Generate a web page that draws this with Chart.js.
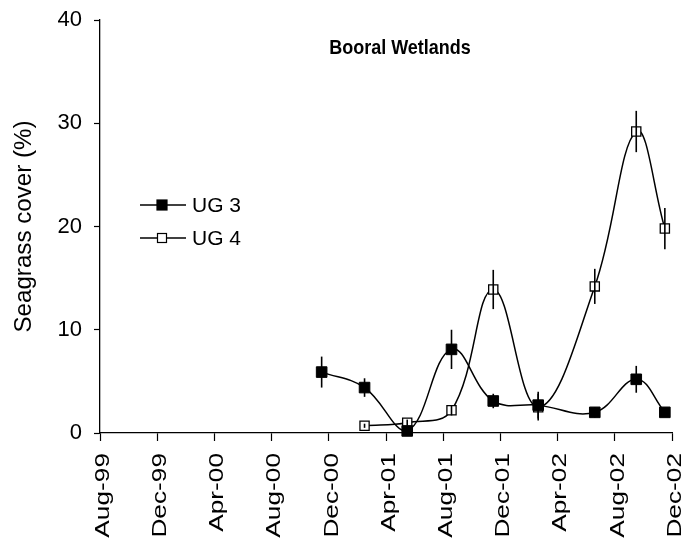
<!DOCTYPE html>
<html>
<head>
<meta charset="utf-8">
<script src="https://cdn.jsdelivr.net/npm/chart.js@4/dist/chart.umd.min.js"></script>
<style>
  html, body { margin: 0; padding: 0; background: #fff; }
  #wrap { width: 690px; height: 542px; }
</style>
</head>
<body>
<div id="wrap"><canvas id="c" width="690" height="542"></canvas></div>
<script>
// ---- Data ----
const chartTitle = 'Booral Wetlands';
const yAxisTitle = 'Seagrass cover (%)';
const tickLabels = ['Aug-99','Dec-99','Apr-00','Aug-00','Dec-00','Apr-01','Aug-01','Dec-01','Apr-02','Aug-02','Dec-02'];
const axisStart = '1999-08-01';

const ug3Dates  = ['2000-11-16','2001-02-15','2001-05-16','2001-08-19','2001-11-16','2002-02-19','2002-06-19','2002-09-16','2002-11-16'];
const ug3Values = [5.9, 4.4, 0.2, 8.1, 3.1, 2.7, 2.0, 5.2, 2.0];
const ug3Errors = [1.5, 0.9, 0.3, 1.9, 0.7, 1.3, 0.5, 1.3, 0.4];

const ug4Dates  = ['2001-02-15','2001-05-16','2001-08-19','2001-11-16','2002-02-19','2002-06-19','2002-09-16','2002-11-16'];
const ug4Values = [0.7, 1.0, 2.2, 13.9, 2.5, 14.2, 29.2, 19.8];
const ug4Errors = [0.2, 0.3, 0.5, 1.9, 1.3, 1.7, 2.0, 2.0];

// months elapsed since axisStart (fractional)
function monthsSince(d) {
  const [y, m, day] = d.split('-').map(Number);
  const [y0, m0] = axisStart.split('-').map(Number);
  const dim = new Date(y, m, 0).getDate();
  return (y - y0) * 12 + (m - m0) + (day - 1) / dim;
}
function toPoints(dates, vals, errs) {
  return dates.map((d, i) => ({ x: monthsSince(d), y: vals[i], err: errs[i] }));
}

const FONT = '"Liberation Sans", Arial, sans-serif';

const errorBarPlugin = {
  id: 'errorBars',
  afterDatasetsDraw(chart) {
    const ctx = chart.ctx;
    const xs = chart.scales.x, ys = chart.scales.y;
    ctx.save();
    ctx.strokeStyle = '#000';
    ctx.lineWidth = 1.6;
    chart.data.datasets.forEach(ds => {
      ds.data.forEach(p => {
        const px = xs.getPixelForValue(p.x);
        ctx.beginPath();
        ctx.moveTo(px, ys.getPixelForValue(p.y - p.err));
        ctx.lineTo(px, ys.getPixelForValue(p.y + p.err));
        ctx.stroke();
      });
    });
    ctx.restore();
  }
};

const annotPlugin = {
  id: 'annot',
  afterDraw(chart) {
    const ctx = chart.ctx;
    const xs = chart.scales.x, ys = chart.scales.y;
    ctx.save();
    ctx.fillStyle = '#000';

    // title
    ctx.save();
    ctx.font = 'bold 18px ' + FONT;
    ctx.textAlign = 'center';
    ctx.textBaseline = 'middle';
    ctx.translate(400, 48);
    ctx.scale(1, 1.15);
    ctx.fillText(chartTitle, 0, 0);
    ctx.restore();

    // x tick labels (rotated, slightly elongated like the original)
    ctx.font = '21px ' + FONT;
    ctx.textAlign = 'right';
    ctx.textBaseline = 'middle';
    tickLabels.forEach((lab, i) => {
      const px = xs.getPixelForValue(i * 4);
      ctx.save();
      ctx.translate(px + 3, ys.bottom + 20);
      ctx.rotate(-Math.PI / 2);
      ctx.scale(1.25, 1);
      ctx.fillText(lab, 0, 0);
      ctx.restore();
    });

    // y axis title
    ctx.save();
    ctx.font = '23px ' + FONT;
    ctx.textAlign = 'center';
    ctx.textBaseline = 'middle';
    ctx.translate(25, (ys.top + ys.bottom) / 2);
    ctx.rotate(-Math.PI / 2);
    ctx.scale(1.05, 1);
    ctx.fillText(yAxisTitle, 0, 0);
    ctx.restore();

    // legend
    const items = [
      { label: 'UG 3', fill: '#000', y: 205, size: 10 },
      { label: 'UG 4', fill: '#fff', y: 238, size: 9 }
    ];
    items.forEach(it => {
      ctx.strokeStyle = '#000';
      ctx.lineWidth = 1.5;
      ctx.beginPath();
      ctx.moveTo(140, it.y);
      ctx.lineTo(186, it.y);
      ctx.stroke();
      const s = it.size;
      ctx.fillStyle = it.fill;
      ctx.fillRect(162 - s / 2, it.y - s / 2, s, s);
      ctx.lineWidth = 1.2;
      ctx.strokeRect(162 - s / 2, it.y - s / 2, s, s);
      ctx.fillStyle = '#000';
      ctx.font = '21px ' + FONT;
      ctx.textAlign = 'left';
      ctx.textBaseline = 'middle';
      ctx.fillText(it.label, 192, it.y + 1);
    });
    ctx.restore();
  }
};

new Chart(document.getElementById('c'), {
  type: 'line',
  data: {
    datasets: [
      {
        label: 'UG 3',
        data: toPoints(ug3Dates, ug3Values, ug3Errors),
        borderColor: '#000',
        borderWidth: 1.5,
        backgroundColor: '#000',
        pointStyle: 'rect',
        pointRadius: 7.5,
        pointBorderWidth: 1,
        pointBorderColor: '#000',
        pointBackgroundColor: '#000',
        tension: 0.4,
        clip: false
      },
      {
        label: 'UG 4',
        data: toPoints(ug4Dates, ug4Values, ug4Errors),
        borderColor: '#000',
        borderWidth: 1.5,
        backgroundColor: '#fff',
        pointStyle: 'rect',
        pointRadius: 6.5,
        pointBorderWidth: 1.3,
        pointBorderColor: '#000',
        pointBackgroundColor: '#fff',
        tension: 0.4,
        clip: false
      }
    ]
  },
  options: {
    responsive: false,
    animation: false,
    devicePixelRatio: 1,
    layout: { padding: { left: 0, right: 18, top: 20, bottom: 0 } },
    plugins: { legend: { display: false }, tooltip: { enabled: false }, title: { display: false } },
    scales: {
      x: {
        type: 'linear',
        min: 0, max: 40,
        afterFit(s) { s.height = 109; s.paddingLeft = 0; s.paddingRight = 0; },
        afterBuildTicks(s) { s.ticks = tickLabels.map((_, i) => ({ value: i * 4 })); },
        ticks: { display: false },
        grid: { drawOnChartArea: false, color: '#000', tickLength: 8, tickWidth: 1.2 },
        border: { color: '#000', width: 1.3 }
      },
      y: {
        min: 0, max: 40,
        afterFit(s) { s.width = 100; s.paddingTop = 0; s.paddingBottom = 0; },
        ticks: { stepSize: 10, color: '#000', font: { family: FONT, size: 22 }, padding: 12 },
        grid: { drawOnChartArea: false, color: '#000', tickLength: 6, tickWidth: 1.2 },
        border: { color: '#000', width: 1.3 }
      }
    }
  },
  plugins: [errorBarPlugin, annotPlugin]
});
</script>
</body>
</html>
